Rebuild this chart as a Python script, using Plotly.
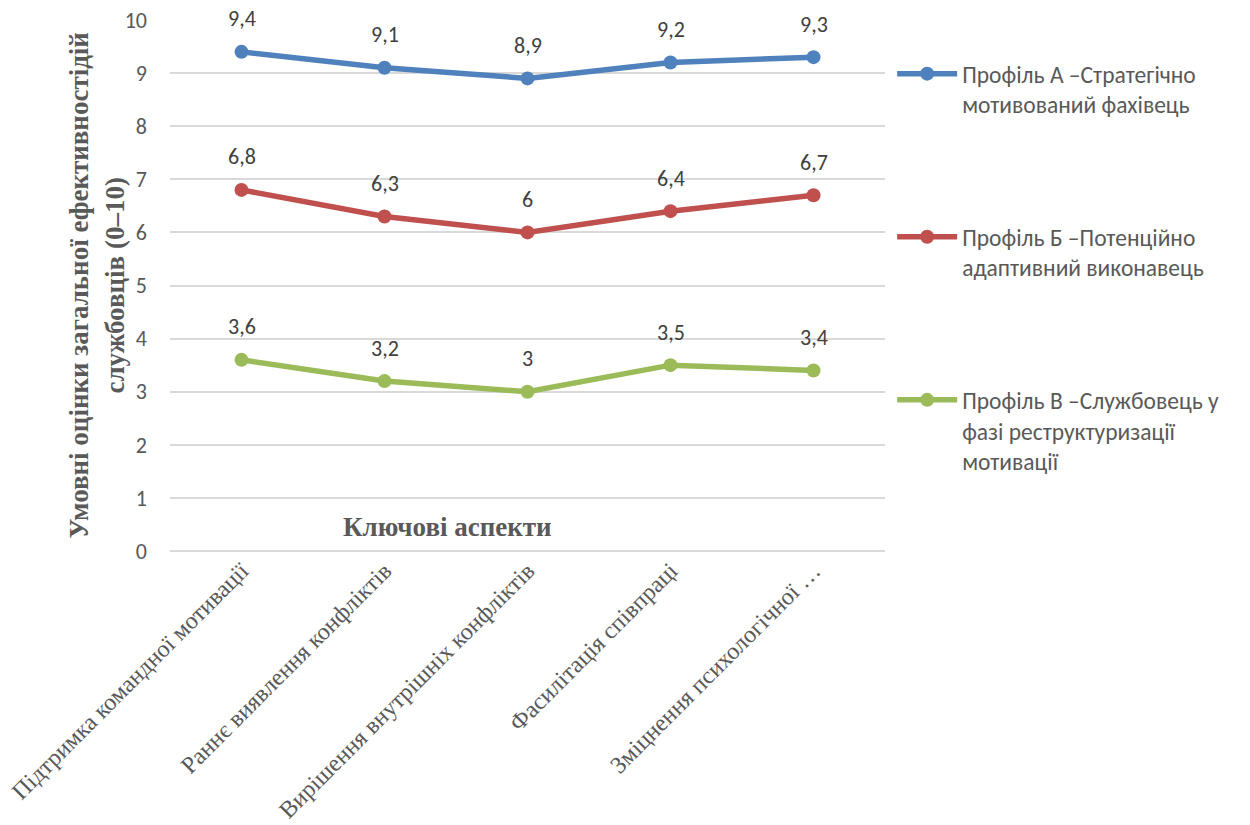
import plotly.graph_objects as go

categories = [
    "Підтримка командної мотивації",
    "Раннє виявлення конфліктів",
    "Вирішення внутрішніх конфліктів",
    "Фасилітація співпраці",
    "Зміцнення психологічної …",
]
profile_a = [9.4, 9.1, 8.9, 9.2, 9.3]
profile_b = [6.8, 6.3, 6.0, 6.4, 6.7]
profile_c = [3.6, 3.2, 3.0, 3.5, 3.4]

series_names = [
    "Профіль А –Стратегічно<br>мотивований фахівець",
    "Профіль Б –Потенційно<br>адаптивний виконавець",
    "Профіль В –Службовець у<br>фазі реструктуризації<br>мотивації",
]
series_values = [profile_a, profile_b, profile_c]
series_colors = ["#4F81BD", "#C0504D", "#9BBB59"]

y_ticks = list(range(0, 11))

SANS = "Carlito, Lato, sans-serif"
SERIF = "Liberation Serif, serif"
GREY = "#595959"

fig = go.Figure()
annotations = []
for name, vals, col in zip(series_names, series_values, series_colors):
    fig.add_trace(go.Scatter(
        x=categories, y=vals, name=name, mode="lines+markers",
        line=dict(color=col, width=5.5),
        marker=dict(color=col, size=14),
        legendgroup=name,
    ))
    for c, v in zip(categories, vals):
        annotations.append(dict(
            x=c, y=v, xref="x", yref="y", text=f"{v:g}".replace(".", ","),
            showarrow=False, yshift=33, yanchor="middle",
            font=dict(family=SANS, size=22, color="#404040"),
        ))

# x-axis caption sits inside the plot area, above the zero line
annotations.append(dict(
    x=0.388, y=0.045, xref="paper", yref="paper", text="<b>Ключові аспекти</b>",
    showarrow=False, yanchor="middle", xanchor="center",
    font=dict(family=SERIF, size=27, color=GREY),
))

# vertical y-axis caption
annotations.append(dict(
    x=-0.1021, y=0.5, xref="paper", yref="paper", textangle=-90,
    text="<b>Умовні оцінки загальної ефективностідій<br>службовців (0–10)</b>",
    showarrow=False, xanchor="center", yanchor="middle",
    font=dict(family=SERIF, size=27, color=GREY),
))

fig.update_layout(
    width=1250, height=825,
    margin=dict(l=170, r=365, t=20, b=274),
    paper_bgcolor="white", plot_bgcolor="white",
    annotations=annotations,
    showlegend=True,
    legend=dict(
        x=1.01, y=0.94, xanchor="left", yanchor="top",
        font=dict(family=SANS, size=23.5, color=GREY),
        tracegroupgap=99, itemwidth=60, valign="top",
    ),
    xaxis=dict(
        range=[-0.5, 4.5], automargin=False,
        tickangle=-45, showgrid=False, showline=False, ticks="",
        tickfont=dict(family=SERIF, size=24, color=GREY),
    ),
    yaxis=dict(
        range=[0, 10], tickvals=y_ticks, automargin=False, showgrid=True,
        gridcolor="#D9D9D9", gridwidth=1.5,
        zeroline=True, zerolinecolor="#D9D9D9", zerolinewidth=1.5,
        showline=False, ticks="", ticklabelstandoff=22,
        tickfont=dict(family=SANS, size=22, color=GREY),
    ),
)

fig.write_html("out.html")
